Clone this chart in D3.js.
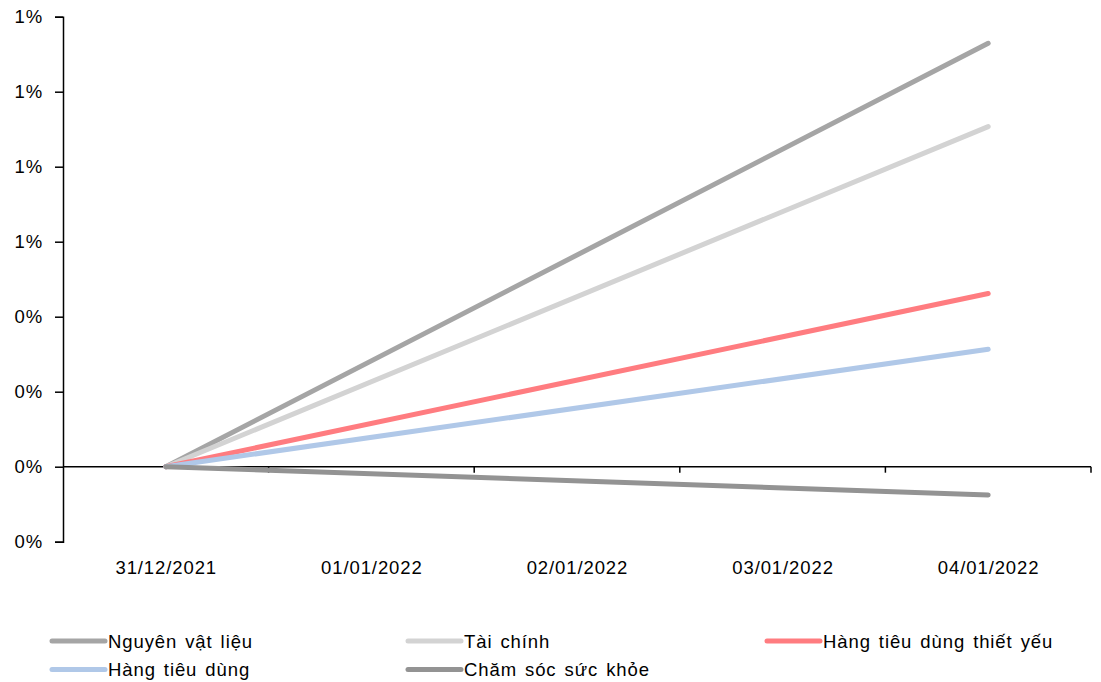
<!DOCTYPE html>
<html><head><meta charset="utf-8">
<script src="https://cdn.jsdelivr.net/npm/d3@7"></script>
<style>body{margin:0;background:#fff;} text{font-family:"Liberation Sans",Arial,sans-serif;}</style>
</head><body><svg id="c" width="1101" height="682"></svg>
<script>
const categories = ["31/12/2021","01/01/2022","02/01/2022","03/01/2022","04/01/2022"];
const yTicks = [-0.002,0,0.002,0.004,0.006,0.008,0.010,0.012];
const seriesNames = ["Nguyên vật liệu","Tài chính","Hàng tiêu dùng thiết yếu","Hàng tiêu dùng","Chăm sóc sức khỏe"];
const seriesColors = ["#A5A5A5","#D3D3D3","#FF7C80","#B0C8E8","#939393"];
// data exists only on trading days: 31/12/2021 and 04/01/2022
const pointDates = ["31/12/2021","04/01/2022"];
const nguyenVatLieu = [0, 0.01129];
const taiChinh = [0, 0.00907];
const hangTieuDungThietYeu = [0, 0.00462];
const hangTieuDung = [0, 0.00313];
const chamSocSucKhoe = [0, -0.000755];
const seriesValues = [nguyenVatLieu, taiChinh, hangTieuDungThietYeu, hangTieuDung, chamSocSucKhoe];

(function(){
const svg = d3.select("#c");
const mLeft = 63, mRight = 1091, mTop = 16.7, mBottom = 541.7;
const FS = 18.5, LS = 0.9;
const x = d3.scaleBand().domain(categories).range([mLeft, mRight]);
const y = d3.scaleLinear().domain([-0.002, 0.012]).range([mBottom, mTop]);
const fmt = d3.format(".0%");

// y axis
const ya = svg.append("g").attr("transform", `translate(${mLeft},0)`)
  .call(d3.axisLeft(y).tickValues(yTicks).tickSize(8).tickPadding(12).tickFormat(d => fmt(Math.abs(d) < 1e-9 ? 0 : d).replace("-","")));
ya.select(".domain").attr("stroke","#000").attr("stroke-width",1.5);
ya.selectAll(".tick line").attr("stroke","#000").attr("stroke-width",1.5);
ya.selectAll("text").attr("font-size",FS).attr("letter-spacing",LS).attr("fill","#000").style("font-family","Liberation Sans, Arial, sans-serif");

// x axis on zero line
const y0 = y(0);
svg.append("line").attr("x1",mLeft).attr("x2",mRight).attr("y1",y0).attr("y2",y0).attr("stroke","#000").attr("stroke-width",1.5);
categories.forEach(c => {
  const xe = x(c) + x.bandwidth();
  svg.append("line").attr("x1",xe).attr("x2",xe).attr("y1",y0).attr("y2",y0+6).attr("stroke","#000").attr("stroke-width",1.5);
  svg.append("text").attr("x", x(c)+x.bandwidth()/2 + LS/2).attr("y", 573.5).attr("text-anchor","middle")
    .attr("font-size",FS).attr("letter-spacing",LS).attr("fill","#000").text(c);
});

// lines
const line = d3.line().x(d => x(d[0]) + x.bandwidth()/2).y(d => y(d[1]));
seriesValues.forEach((vals, i) => {
  const pts = pointDates.map((dt, j) => [dt, vals[j]]);
  svg.append("path").attr("d", line(pts)).attr("fill","none").attr("stroke", seriesColors[i])
    .attr("stroke-width",5).attr("stroke-linecap","round");
});

// legend
const legPos = [[52,641],[408,641],[767,641],[52,669.5],[408,669.5]];
seriesNames.forEach((n,i) => {
  const [lx, ly] = legPos[i];
  svg.append("line").attr("x1",lx).attr("x2",lx+53).attr("y1",ly).attr("y2",ly)
    .attr("stroke",seriesColors[i]).attr("stroke-width",5).attr("stroke-linecap","round");
  svg.append("text").attr("x",lx+56).attr("y",ly+6.5).attr("font-size",FS).attr("letter-spacing",LS).attr("fill","#000")
    .attr("word-spacing",2).text(n);
});
})();
</script></body></html>
